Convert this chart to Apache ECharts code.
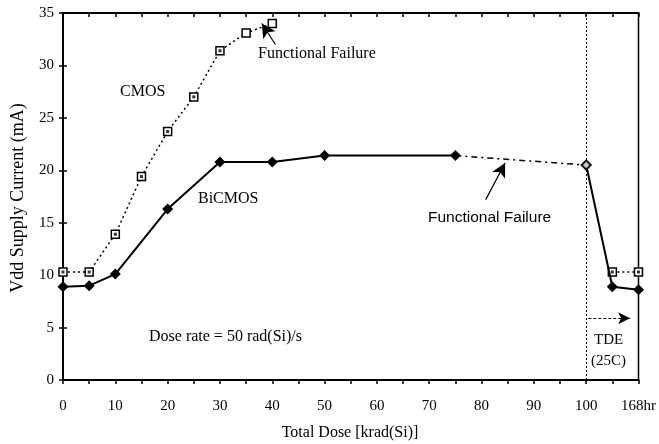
<!DOCTYPE html>
<html><head><meta charset="utf-8">
<script src="https://cdn.jsdelivr.net/npm/echarts@6/dist/echarts.min.js"></script>
<style>html,body{margin:0;padding:0;background:#fff}#c{width:659px;height:444px}</style>
</head><body><div id="c"></div>
<script>
// ---- data ----
const xTickLabels = ['0','10','20','30','40','50','60','70','80','90','100','168hr'];
const xTickValues = [0,10,20,30,40,50,60,70,80,90,100,110];
const yTickValues = [0,5,10,15,20,25,30,35];
const bicmosX = [0,5,10,20,30,40,50,75];
const bicmosY = [8.9,9.0,10.1,16.3,20.8,20.8,21.4,21.4];
const bicmosFailX = [75,100];
const bicmosFailY = [21.4,20.5];
const bicmosTdeX = [100,105,110];
const bicmosTdeY = [20.5,8.9,8.6];
const cmosX = [0,5,10,15,20,25,30,35,40];
const cmosY = [10.3,10.3,13.9,19.4,23.7,27.0,31.4,33.1,34.0];
const cmosTdeX = [105,110];
const cmosTdeY = [10.3,10.3];

const serif = 'Liberation Serif';
const pairs = (xs, ys) => xs.map((x, i) => [x, ys[i]]);

const chart = echarts.init(document.getElementById('c'));
const labelFor = v => { const i = xTickValues.indexOf(v); return i >= 0 ? xTickLabels[i] : ''; };

const baseX = {
  type: 'value', min: 0, max: 110, interval: 5,
  axisLine: { show: true, onZero: false, lineStyle: { color: '#000', width: 2 } },
  splitLine: { show: false },
};
const baseY = {
  type: 'value', min: 0, max: 35, interval: 5,
  axisLine: { show: true, onZero: false, lineStyle: { color: '#000', width: 2 } },
  splitLine: { show: false },
};

const cmosStyle = { color: '#000', width: 1.5, type: [2, 3] };
const squareMarker = { color: '#fff', borderColor: '#000', borderWidth: 1.5 };
const diamondStyle = { color: '#000' };

chart.setOption({
  animation: false,
  backgroundColor: '#fff',
  grid: { left: 63, right: 18, top: 13, bottom: 64, show: true, borderColor: '#000', borderWidth: 1.5, backgroundColor: 'transparent' },
  xAxis: [
    Object.assign({}, baseX, {
      axisTick: { show: true, inside: false, length: 4, lineStyle: { color: '#000', width: 1.5 } },
      axisLabel: { show: true, margin: 19, color: '#000', fontFamily: serif, fontSize: 15,
        formatter: v => labelFor(v) }
    }),
    Object.assign({}, baseX, {
      axisTick: { show: true, inside: true, length: 4, lineStyle: { color: '#000', width: 1.5 } },
      axisLabel: { show: false }
    })
  ],
  yAxis: [
    Object.assign({}, baseY, {
      axisTick: { show: true, inside: false, length: 4, lineStyle: { color: '#000', width: 1.5 } },
      axisLabel: { show: true, margin: 9, color: '#000', fontFamily: serif, fontSize: 15 }
    }),
    Object.assign({}, baseY, {
      position: 'left',
      axisTick: { show: true, inside: true, length: 4, lineStyle: { color: '#000', width: 1.5 } },
      axisLabel: { show: false }
    })
  ],
  series: [
    { type: 'line', data: pairs(cmosX, cmosY), lineStyle: cmosStyle, symbol: 'rect', symbolSize: 8,
      itemStyle: squareMarker, z: 3,
      markLine: { silent: true, symbol: ['none', 'none'], label: { show: false },
        lineStyle: { color: '#000', width: 1, type: [2, 2] },
        data: [{ xAxis: 100 }] } },
    { type: 'line', data: pairs(cmosTdeX, cmosTdeY), lineStyle: cmosStyle, symbol: 'rect', symbolSize: 8,
      itemStyle: squareMarker, z: 3 },
    { type: 'scatter', data: pairs(cmosX.slice(0, 7), cmosY.slice(0, 7)).concat(pairs(cmosTdeX, cmosTdeY)),
      symbol: 'rect', symbolSize: 3, itemStyle: { color: '#000' }, z: 4 },
    { type: 'line', data: pairs(bicmosX, bicmosY), lineStyle: { color: '#000', width: 2 },
      symbol: 'diamond', symbolSize: 11, itemStyle: diamondStyle, z: 5 },
    { type: 'line', data: pairs(bicmosFailX, bicmosFailY), lineStyle: { color: '#000', width: 1.5, type: [6, 4, 2, 4] },
      symbol: 'none', z: 5 },
    { type: 'line', data: pairs(bicmosTdeX, bicmosTdeY), lineStyle: { color: '#000', width: 2 },
      symbol: 'diamond', symbolSize: 11, itemStyle: diamondStyle, z: 5 },
    { type: 'scatter', data: [[bicmosFailX[1], bicmosFailY[1]]], symbol: 'diamond', symbolSize: 9,
      itemStyle: { color: '#fff', borderColor: '#000', borderWidth: 2 }, z: 6 },
    // annotation arrows
    { type: 'line', data: [], markLine: { silent: true, label: { show: false }, symbol: ['none', 'arrow'], symbolSize: [11, 14],
      lineStyle: { color: '#000', width: 1.2, type: 'solid' },
      data: [
        [{ coord: [40.6, 32.0] }, { coord: [38.0, 34.0] }],
        [{ coord: [80.8, 17.2] }, { coord: [84.5, 20.7] }]
      ] } },
    { type: 'line', data: [], markLine: { silent: true, label: { show: false }, symbol: ['none', 'arrow'], symbolSize: [9, 12],
      lineStyle: { color: '#000', width: 1.2, type: [3, 2] },
      data: [[{ coord: [100.4, 5.9] }, { coord: [108.4, 5.9] }]] } }
  ],
  graphic: [
    { type: 'text', left: 258, top: 46, style: { text: 'Functional Failure', font: '16px "Liberation Serif"', fill: '#000' } },
    { type: 'text', left: 120, top: 84, style: { text: 'CMOS', font: '16px "Liberation Serif"', fill: '#000' } },
    { type: 'text', left: 198, top: 191, style: { text: 'BiCMOS', font: '16px "Liberation Serif"', fill: '#000' } },
    { type: 'text', left: 428, top: 210, style: { text: 'Functional Failure', font: '15.5px "Liberation Sans"', fill: '#000' } },
    { type: 'text', left: 149, top: 329, style: { text: 'Dose rate = 50 rad(Si)/s', font: '16px "Liberation Serif"', fill: '#000' } },
    { type: 'text', left: 594, top: 333, style: { text: 'TDE', font: '15px "Liberation Serif"', fill: '#000' } },
    { type: 'text', left: 591, top: 354, style: { text: '(25C)', font: '15px "Liberation Serif"', fill: '#000' } },
    { type: 'text', x: 350, y: 433, style: { text: 'Total Dose [krad(Si)]', font: '16px "Liberation Serif"', fill: '#000', align: 'center', verticalAlign: 'middle' } },
    { type: 'text', x: 18, y: 198, rotation: Math.PI / 2, style: { text: 'Vdd Supply Current (mA)', font: '18px "Liberation Serif"', fill: '#000', align: 'center', verticalAlign: 'middle' } }
  ]
});
</script></body></html>
